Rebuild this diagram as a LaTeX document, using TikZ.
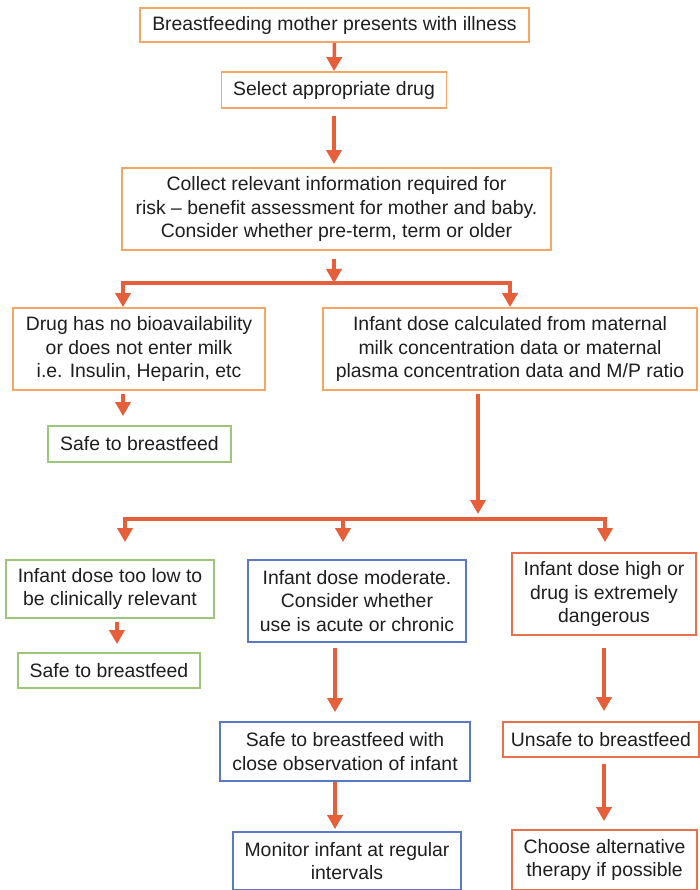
\documentclass[tikz,border=0pt]{standalone}
\usepackage{fontspec}
\setmainfont{Liberation Sans}
\usetikzlibrary{arrows.meta,calc}
\definecolor{boxorange}{HTML}{F5A564}
\definecolor{boxgreen}{HTML}{9CC77B}
\definecolor{boxblue}{HTML}{5B78C8}
\definecolor{boxred}{HTML}{E8704A}
\definecolor{arrowc}{HTML}{E5603A}
\definecolor{textc}{HTML}{1E1E1E}
\tikzset{
  box/.style={draw, line width=1.8pt, inner sep=0pt, align=center, text=textc,
    font=\fontsize{19.4pt}{23.3pt}\selectfont, fill=white},
  obox/.style={box, draw=boxorange},
  gbox/.style={box, draw=boxgreen},
  bbox/.style={box, draw=boxblue},
  rbox/.style={box, draw=boxred},
  arr/.style={draw=arrowc, line width=3.5pt, -{Triangle[width=15pt,length=14pt]}},
  ln/.style={draw=arrowc, line width=3.5pt}
}
\begin{document}
\begin{tikzpicture}[x=1pt,y=-1pt]
\useasboundingbox[fill=white] (0,0) rectangle (700,890);

\node[obox, minimum width=389pt, minimum height=34pt] (n1) at (334.5,25) {Breastfeeding mother presents with illness};
\node[obox, minimum width=225pt, minimum height=36pt] (n2) at (334,90) {Select appropriate drug};
\node[obox, minimum width=429pt, minimum height=82pt] (n3) at (336.5,209) {Collect relevant information required for\\risk -- benefit assessment for mother and baby.\\Consider whether pre-term, term or older};
\node[obox, minimum width=252pt, minimum height=82pt] (n4) at (139,349) {Drug has no bioavailability\\or does not enter milk\\i.e. Insulin, Heparin, etc};
\node[obox, minimum width=374pt, minimum height=82pt] (n5) at (510,349) {Infant dose calculated from maternal\\milk concentration data or maternal\\plasma concentration data and M/P ratio};
\node[gbox, minimum width=183pt, minimum height=36pt] (n6) at (139.5,444) {Safe to breastfeed};
\node[gbox, minimum width=208pt, minimum height=58pt] (n7) at (110,589) {Infant dose too low to\\be clinically relevant};
\node[bbox, minimum width=218pt, minimum height=82pt] (n8) at (357,601) {Infant dose moderate.\\Consider whether\\use is acute or chronic};
\node[rbox, minimum width=184pt, minimum height=82pt] (n9) at (604,594) {Infant dose high or\\drug is extremely\\dangerous};
\node[gbox, minimum width=182pt, minimum height=35pt] (n10) at (109,670.5) {Safe to breastfeed};
\node[bbox, minimum width=250pt, minimum height=59pt] (n11) at (345,751.5) {Safe to breastfeed with\\close observation of infant};
\node[bbox, minimum width=228pt, minimum height=58pt] (n12) at (347,861) {Monitor infant at regular\\intervals};
\node[rbox, minimum width=196pt, minimum height=35pt] (n13) at (601,739.5) {Unsafe to breastfeed};
\node[rbox, minimum width=185pt, minimum height=60pt] (n14) at (604.5,860) {Choose alternative\\therapy if possible};

% top chain
\draw[arr] (n1.south) -- (n2.north);
\draw[arr, shorten <=7pt, shorten >=3pt] (n2.south) -- (n2.south |- n3.north);
\coordinate (j1) at (334,283);
\coordinate (j1l) at (123,283);
\draw[arr, shorten <=8pt] (n3.south -| j1) -- (j1);
\draw[arr] (j1) -| (j1l |- n4.north);
\draw[arr] (j1) -| (n5.north);
\draw[arr, shorten <=3pt, shorten >=9pt] (j1l |- n4.south) -- (j1l |- n6.north);

% second branching
\coordinate (j2) at (478,519);
\coordinate (j2l) at (125,519);
\coordinate (j2m) at (343,519);
\coordinate (j2r) at (605,519);
\draw[arr, shorten <=3pt, shorten >=5pt] (n5.south -| j2) -- (j2);
\draw[arr, shorten >=17pt] (j2) -| (j2l |- n7.north);
\draw[arr, shorten >=17pt] (j2m) -- (j2m |- n8.north);
\draw[arr, shorten >=10pt] (j2) -| (j2r |- n9.north);

% lower chains
\draw[arr, shorten <=3pt, shorten >=8pt] ([xshift=7pt]n7.south) -- ([xshift=7pt]n7.south |- n10.north);
\draw[arr, shorten <=5pt, shorten >=9pt] ([xshift=-22pt]n8.south) -- ([xshift=-22pt]n8.south |- n11.north);
\draw[arr, shorten >=2pt] ([xshift=-10pt]n11.south) -- ([xshift=-10pt]n11.south |- n12.north);
\draw[arr, shorten <=12pt, shorten >=10pt] (n9.south) -- (n9.south |- n13.north);
\draw[arr, shorten <=6pt, shorten >=8pt] (n9.south |- n13.south) -- (n9.south |- n14.north);
\end{tikzpicture}
\end{document}
